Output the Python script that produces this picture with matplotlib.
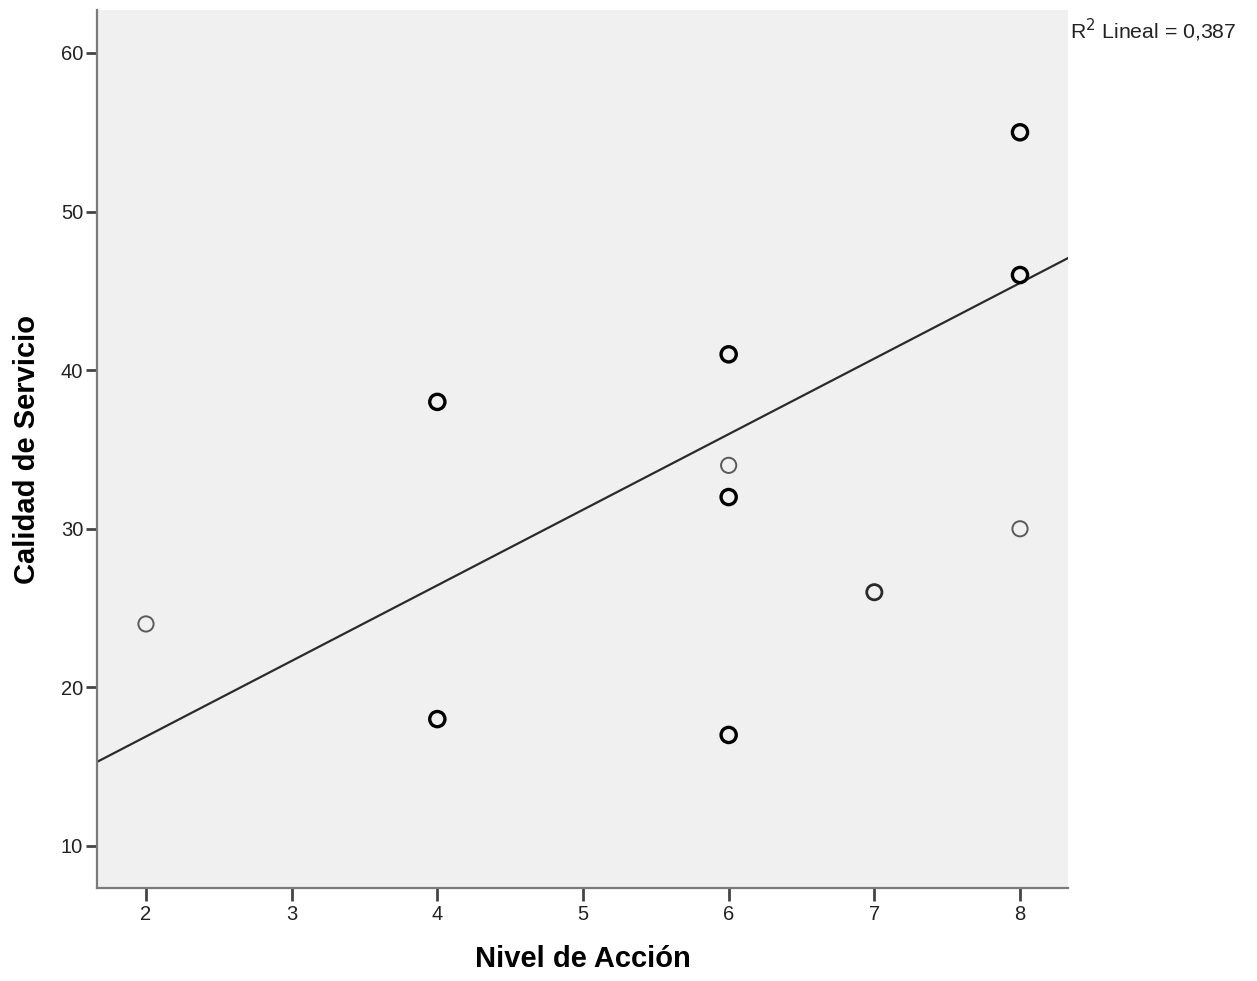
import numpy as np
import matplotlib.pyplot as plt

plt.rcParams['font.family'] = ['Liberation Sans', 'DejaVu Sans']

# scatter points
nivel_bold = [4, 4, 6, 6, 6, 8, 8]
calidad_bold = [38, 18, 41, 32, 17, 55, 46]
nivel_mid = [7]
calidad_mid = [26]
nivel_thin = [2, 6, 8]
calidad_thin = [24, 34, 30]

# linear fit line as drawn (intercept, slope)
fit_intercept = 7.37
fit_slope = 4.766
r2_text = 'R$^2$ Lineal = 0,387'

x_ticks = [2, 3, 4, 5, 6, 7, 8]
y_ticks = [10, 20, 30, 40, 50, 60]

fig = plt.figure(figsize=(12.57, 9.81), dpi=100)
ax = fig.add_axes([0.0772, 0.0948, 0.7725, 0.895])
ax.set_facecolor('#f0f0f0')
ax.set_xlim(1.664, 8.33)
ax.set_ylim(7.35, 62.71)

xs = np.array(ax.get_xlim())
ax.plot(xs, fit_intercept + fit_slope * xs, color='#2b2b2b', lw=1.6, zorder=2)

ax.scatter(nivel_thin, calidad_thin, s=120, facecolors='none', edgecolors='#5a5a5a', linewidths=1.4, zorder=3)
ax.scatter(nivel_mid, calidad_mid, s=120, facecolors='none', edgecolors='#2a2a2a', linewidths=2.0, zorder=3)
ax.scatter(nivel_bold, calidad_bold, s=120, facecolors='none', edgecolors='black', linewidths=2.4, zorder=3)

for side in ['top', 'right']:
    ax.spines[side].set_visible(False)
for side in ['left', 'bottom']:
    ax.spines[side].set_color('#7a7a7a')
    ax.spines[side].set_linewidth(1.6)

ax.set_xticks(x_ticks)
ax.set_yticks(y_ticks)
ax.tick_params(axis='both', direction='out', length=9, width=2, color='#444444',
               labelsize=14.5, labelcolor='#222222', pad=3)
ax.tick_params(axis='y', length=8, pad=2)

ax.set_xlabel('Nivel de Acción', fontsize=21, fontweight='bold', labelpad=15)
ax.set_ylabel('Calidad de Servicio', fontsize=21, fontweight='bold', labelpad=14)

fig.text(1070 / 1257, 1 - 30 / 981, r2_text, fontsize=15.3, color='#222222',
         ha='left', va='center')

fig.savefig('out.png', dpi=100)
